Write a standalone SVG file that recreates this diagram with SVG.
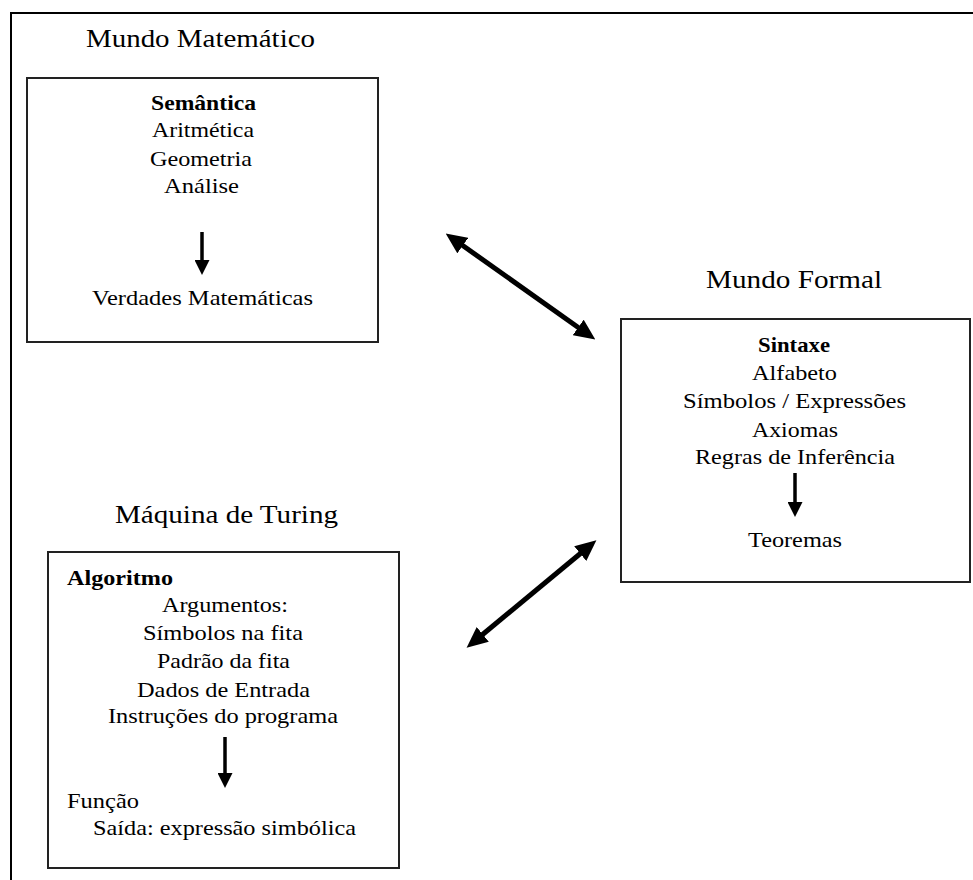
<svg xmlns="http://www.w3.org/2000/svg" width="973" height="880" viewBox="0 0 973 880">
<style>
  .t { font-family: "Liberation Serif", "Times New Roman", serif; font-size: 21px; fill: #000; }
  .h { font-family: "Liberation Serif", "Times New Roman", serif; font-size: 25px; fill: #000; }
  .b { font-weight: bold; }
  .box { fill: #fff; stroke: #222; stroke-width: 2; }
  .dbl { stroke: #000; stroke-width: 5; fill: none; marker-start: url(#bighead); marker-end: url(#bighead); }
  .down { stroke: #000; stroke-width: 3.5; fill: none; marker-end: url(#smallhead); }
</style>
<defs>
  <marker id="bighead" markerUnits="userSpaceOnUse" markerWidth="21" markerHeight="19" viewBox="0 0 21 19" refX="1" refY="9.5" orient="auto-start-reverse">
    <path d="M0,0 L21,9.5 L0,19 z" fill="#000"/>
  </marker>
  <marker id="smallhead" markerUnits="userSpaceOnUse" markerWidth="15" markerHeight="15" viewBox="0 0 15 15" refX="1" refY="7.5" orient="auto">
    <path d="M0,0 L15,7.5 L0,15 z" fill="#000"/>
  </marker>
</defs>
<rect x="0" y="0" width="973" height="880" fill="#fff"/>
<path d="M11,880 V13 H973" fill="none" stroke="#000" stroke-width="2"/>

<g id="mundo-matematico">
  <text class="h" x="86" y="47" textLength="229" lengthAdjust="spacingAndGlyphs">Mundo Matemático</text>
  <rect class="box" x="27" y="78" width="351" height="264"/>
  <text class="t b" x="151" y="110" textLength="105" lengthAdjust="spacingAndGlyphs">Semântica</text>
  <text class="t" x="152" y="137" textLength="102" lengthAdjust="spacingAndGlyphs">Aritmética</text>
  <text class="t" x="150" y="166" textLength="102" lengthAdjust="spacingAndGlyphs">Geometria</text>
  <text class="t" x="164" y="193" textLength="75" lengthAdjust="spacingAndGlyphs">Análise</text>
  <line class="down" x1="202" y1="232" x2="202" y2="261"/>
  <text class="t" x="92" y="305" textLength="221" lengthAdjust="spacingAndGlyphs">Verdades Matemáticas</text>
</g>

<g id="mundo-formal">
  <text class="h" x="706" y="288" textLength="176" lengthAdjust="spacingAndGlyphs">Mundo Formal</text>
  <rect class="box" x="621" y="319" width="349" height="263"/>
  <text class="t b" x="758" y="352" textLength="72" lengthAdjust="spacingAndGlyphs">Sintaxe</text>
  <text class="t" x="752" y="380" textLength="85" lengthAdjust="spacingAndGlyphs">Alfabeto</text>
  <text class="t" x="683" y="408" textLength="223" lengthAdjust="spacingAndGlyphs">Símbolos / Expressões</text>
  <text class="t" x="752" y="437" textLength="86" lengthAdjust="spacingAndGlyphs">Axiomas</text>
  <text class="t" x="695" y="464" textLength="200" lengthAdjust="spacingAndGlyphs">Regras de Inferência</text>
  <line class="down" x1="795" y1="473" x2="795" y2="503"/>
  <text class="t" x="748" y="547" textLength="94" lengthAdjust="spacingAndGlyphs">Teoremas</text>
</g>

<g id="maquina-turing">
  <text class="h" x="115" y="523" textLength="223" lengthAdjust="spacingAndGlyphs">Máquina de Turing</text>
  <rect class="box" x="48" y="552" width="351" height="316"/>
  <text class="t b" x="67" y="585" textLength="106" lengthAdjust="spacingAndGlyphs">Algoritmo</text>
  <text class="t" x="162" y="612" textLength="126" lengthAdjust="spacingAndGlyphs">Argumentos:</text>
  <text class="t" x="143" y="640" textLength="160" lengthAdjust="spacingAndGlyphs">Símbolos na fita</text>
  <text class="t" x="157" y="668" textLength="133" lengthAdjust="spacingAndGlyphs">Padrão da fita</text>
  <text class="t" x="137" y="697" textLength="173" lengthAdjust="spacingAndGlyphs">Dados de Entrada</text>
  <text class="t" x="108" y="723" textLength="230" lengthAdjust="spacingAndGlyphs">Instruções do programa</text>
  <line class="down" x1="225" y1="737" x2="225" y2="774"/>
  <text class="t" x="67" y="808" textLength="72" lengthAdjust="spacingAndGlyphs">Função</text>
  <text class="t" x="93" y="835" textLength="263" lengthAdjust="spacingAndGlyphs">Saída: expressão simbólica</text>
</g>

<g id="connectors">
  <line class="dbl" x1="462" y1="245" x2="579" y2="328"/>
  <line class="dbl" x1="482" y1="635" x2="581" y2="553"/>
</g>
</svg>
